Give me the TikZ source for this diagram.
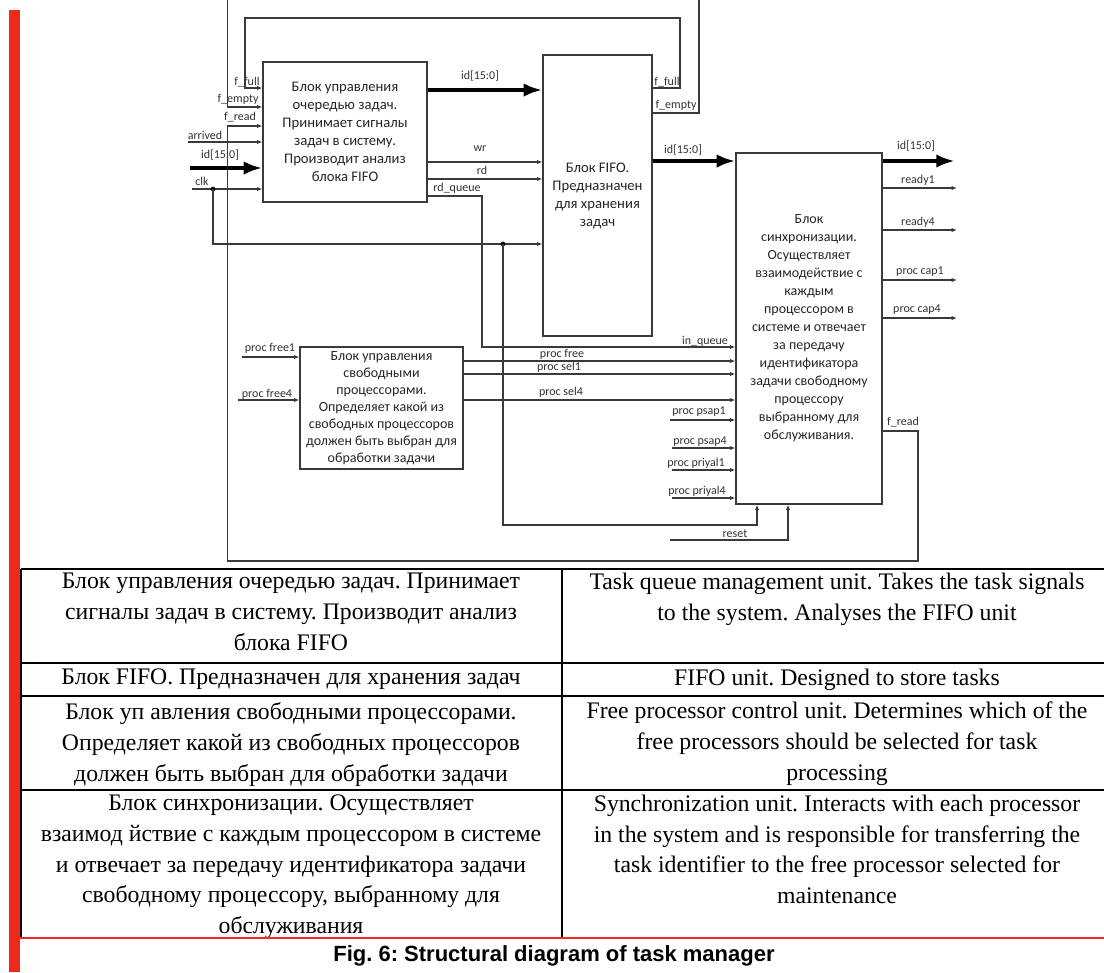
\documentclass[tikz,border=0pt]{standalone}
\usepackage{fontspec}
\setmainfont{Liberation Serif}
\newfontfamily\diagfont{Carlito}
\newfontfamily\capfont{Liberation Sans}
\usetikzlibrary{arrows.meta}
\definecolor{redbar}{HTML}{EE2A1F}
\definecolor{wirec}{HTML}{3A3A3A}
\frenchspacing
\begin{document}
\begin{tikzpicture}[x=0.75pt,y=-0.75pt,
  block/.style={draw=wirec, line width=0.9pt, align=center, text=black!85, inner sep=2pt},
  qfont/.style={font=\diagfont\fontsize{11}{13.5}\selectfont},
  sfont/.style={font=\diagfont\fontsize{10.5}{13.5}\selectfont},
  pfont/.style={font=\diagfont\fontsize{10.5}{12.75}\selectfont},
  wire/.style={draw=wirec, line width=0.8pt},
  sig/.style={wire, -{Latex[length=4pt,width=3.2pt]}},
  bus/.style={draw=black, line width=3pt, -{Latex[length=14pt,width=10pt]}},
  lbl/.style={font=\diagfont\fontsize{9}{10}\selectfont, inner sep=0.5pt, text=black!80},
  cell/.style={font=\fontsize{17.8}{23.25}\selectfont, align=center, inner sep=0pt, anchor=north},
  cellb/.style={font=\fontsize{17.8}{22.9}\selectfont, align=center, inner sep=0pt, anchor=north},
  tline/.style={draw=black, line width=1.1pt},
  dot/.style={circle, fill=black, inner sep=0pt, minimum size=3.5pt},
]
\useasboundingbox (0,0) rectangle (1104,972);
\clip (0,0) rectangle (1104,972);
\fill[white] (0,0) rectangle (1104,972);

% ---------- blocks ----------
\node[block, qfont, minimum width=123pt, minimum height=105pt] (q) at (345,132)
  {Блок управления\\очередью задач.\\Принимает сигналы\\задач в систему.\\Производит анализ\\блока FIFO};
\node[block, qfont, minimum width=81.75pt, minimum height=210.75pt] (f) at (597.5,195.5)
  {Блок FIFO.\\Предназначен\\для хранения\\задач};
\node[block, sfont, minimum width=109.5pt, minimum height=263.25pt] (s) at (809,328.5)
  {Блок\\синхронизации.\\Осуществляет\\взаимодействие с\\каждым\\процессором в\\системе и отвечает\\за передачу\\идентификатора\\задачи свободному\\процессору\\выбранному для\\обслуживания.};
\node[block, pfont, minimum width=122.25pt, minimum height=91.5pt] (p) at (381.5,408)
  {Блок управления\\свободными\\процессорами.\\Определяет какой из\\свободных процессоров\\должен быть выбран для\\обработки задачи};

% ---------- feedback loops ----------
\coordinate (ff1) at (680,88); \coordinate (ff2) at (680,18); \coordinate (ff3) at (245,18);
\draw[sig] (f.east |- ff1) -- (ff1) -- (ff2) -- (ff3) -- (ff3 |- ff1) -- (q.west |- ff1);
\coordinate (fe1) at (699,113); \coordinate (fe2) at (699,-4); \coordinate (fe3) at (227.5,-4); \coordinate (fe4) at (227.5,107);
\draw[sig] (f.east |- fe1) -- (fe1) -- (fe2) -- (fe3) -- (fe4) -- (q.west |- fe4);
\coordinate (fr1) at (918,431); \coordinate (fr2) at (918,561); \coordinate (fr3) at (227.5,561); \coordinate (fr4) at (227.5,126);
\draw[sig] (s.east |- fr1) -- (fr1) -- (fr2) -- (fr3) -- (fr4) -- (q.west |- fr4);

% ---------- inputs of queue block ----------
\coordinate (arr) at (188,142);
\draw[sig] (arr) -- (q.west |- arr);
\coordinate (idin) at (190,168);
\draw[bus] (idin) -- (q.west |- idin);
\coordinate (clkin) at (192,189);
\draw[sig] (clkin) -- (q.west |- clkin);
\node[dot] (d1) at (213,189) {};
\coordinate (ck1) at (213,244);
\draw[sig] (d1.center) -- (ck1) -- (f.west |- ck1);
\node[dot] (d2) at (503,244) {};
\coordinate (ck2) at (503,525); \coordinate (ck3) at (757,525);
\draw[sig] (d2.center) -- (ck2) -- (ck3) -- (ck3 |- s.south);

% ---------- queue block -> FIFO ----------
\coordinate (qid) at (430,90);
\draw[bus] (q.east |- qid) -- (f.west |- qid);
\coordinate (qwr) at (430,162);
\draw[sig] (q.east |- qwr) -- (f.west |- qwr);
\coordinate (qrd) at (430,179);
\draw[sig] (q.east |- qrd) -- (f.west |- qrd);
\coordinate (rq1) at (482,196); \coordinate (rq2) at (482,347);
\draw[sig] (q.east |- rq1) -- (rq1) -- (rq2) -- (s.west |- rq2);

% ---------- FIFO -> sync ----------
\coordinate (fid) at (660,161);
\draw[bus] (f.east |- fid) -- (s.west |- fid);

% ---------- sync outputs ----------
\coordinate (oid) at (955,161);
\draw[bus] (s.east |- oid) -- (oid);
\coordinate (o1) at (957,188); \draw[sig] (s.east |- o1) -- (o1);
\coordinate (o2) at (957,230); \draw[sig] (s.east |- o2) -- (o2);
\coordinate (o3) at (957,280); \draw[sig] (s.east |- o3) -- (o3);
\coordinate (o4) at (957,318); \draw[sig] (s.east |- o4) -- (o4);

% ---------- free processor block ----------
\coordinate (pf1) at (242,357); \draw[sig] (pf1) -- (p.west |- pf1);
\coordinate (pf4) at (238,400); \draw[sig] (pf4) -- (p.west |- pf4);
\coordinate (po1) at (470,361); \draw[sig] (p.east |- po1) -- (s.west |- po1);
\coordinate (po2) at (470,374); \draw[sig] (p.east |- po2) -- (s.west |- po2);
\coordinate (po3) at (470,400); \draw[sig] (p.east |- po3) -- (s.west |- po3);

% ---------- other sync inputs ----------
\coordinate (i1) at (670,420); \draw[sig] (i1) -- (s.west |- i1);
\coordinate (i2) at (672,448); \draw[sig] (i2) -- (s.west |- i2);
\coordinate (i3) at (672,470); \draw[sig] (i3) -- (s.west |- i3);
\coordinate (i4) at (672,498); \draw[sig] (i4) -- (s.west |- i4);
\coordinate (rs0) at (670,540); \coordinate (rs1) at (788,540);
\draw[sig] (rs0) -- (rs1) -- (rs1 |- s.south);

% ---------- labels ----------
\node[lbl] (L1) at (247,82) {f\_full};
\node[lbl] (L2) at (238,99) {f\_empty};
\node[lbl] (L3) at (240,117) {f\_read};
\node[lbl] (L4) at (205,135) {arrived};
\node[lbl] (L5) at (220,155) {id[15:0]};
\node[lbl] (L6) at (202,181) {clk};
\node[lbl] (L7) at (480,76) {id[15:0]};
\node[lbl] (L8) at (480,149) {wr};
\node[lbl] (L9) at (482,170) {rd};
\node[lbl] (L10) at (457,188) {rd\_queue};
\node[lbl] (L11) at (667,82) {f\_full};
\node[lbl] (L12) at (676,105) {f\_empty};
\node[lbl] (L13) at (683,150) {id[15:0]};
\node[lbl] (L14) at (916,146) {id[15:0]};
\node[lbl] (L15) at (918,180) {ready1};
\node[lbl] (L16) at (918,222) {ready4};
\node[lbl] (L17) at (920,272) {proc cap1};
\node[lbl] (L18) at (917,310) {proc cap4};
\node[lbl] (L19) at (903,422) {f\_read};
\node[lbl] (L20) at (705,341) {in\_queue};
\node[lbl] (L21) at (562,354) {proc free};
\node[lbl] (L22) at (559,367) {proc sel1};
\node[lbl] (L23) at (561,392) {proc sel4};
\node[lbl] (L24) at (699,412) {proc psap1};
\node[lbl] (L25) at (700,442) {proc psap4};
\node[lbl] (L26) at (696,463) {proc priyal1};
\node[lbl] (L27) at (697,491) {proc priyal4};
\node[lbl] (L28) at (735,534) {reset};
\node[lbl] (L29) at (270,348) {proc free1};
\node[lbl] (L30) at (267,394) {proc free4};

% ---------- table ----------
\draw[tline] (21,569) -- (1104,569);
\draw[tline] (21,663) -- (1104,663);
\draw[tline] (21,696) -- (1104,696);
\draw[tline] (21,790) -- (1104,790);
\draw[tline] (21,569) -- (21,938);
\draw[tline] (562,569) -- (562,938);

\node[cell] (c11) at (291,573) {Блок управления очередью задач. Принимает\\сигналы задач в систему. Производит анализ\\блока FIFO};
\node[cell] (c12) at (837,573) {Task queue management unit. Takes the task signals\\to the system. Analyses the FIFO unit};
\node[cell] (c21) at (291,669) {Блок FIFO. Предназначен для хранения задач};
\node[cell] (c22) at (837,669) {FIFO unit. Designed to store tasks};
\node[cell] (c31) at (291,702) {Блок уп авления свободными процессорами.\\Определяет какой из свободных процессоров\\должен быть выбран для обработки задачи};
\node[cell] (c32) at (837,702) {Free processor control unit. Determines which of the\\free processors should be selected for task\\processing};
\node[cellb] (c41) at (291,795) {Блок синхронизации. Осуществляет\\взаимод йствие с каждым процессором в системе\\и отвечает за передачу идентификатора задачи\\свободному процессору, выбранному для\\обслуживания};
\node[cellb] (c42) at (837,795) {Synchronization unit. Interacts with each processor\\in the system and is responsible for transferring the\\task identifier to the free processor selected for\\maintenance};

\fill[redbar] (9,10) rectangle (20,972);
\draw[redbar, line width=1.8pt] (20,938) -- (1104,938);
\node[font=\capfont\bfseries\fontsize{16.5}{20}\selectfont] (cap) at (554,956) {Fig. 6: Structural diagram of task manager};
\end{tikzpicture}
\end{document}
